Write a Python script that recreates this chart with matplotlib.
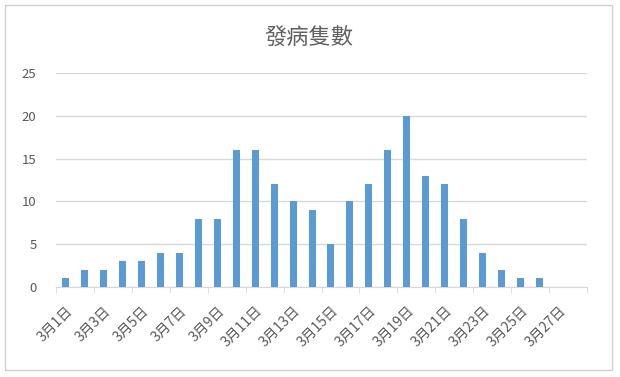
import numpy as np
import matplotlib
matplotlib.use("Agg")
from matplotlib import pyplot as plt
from matplotlib.patches import Rectangle

plt.rcParams['font.family'] = ['Noto Sans CJK TC', 'DejaVu Sans']

days = ["3月%d日" % d for d in range(1, 29)]
cases = [1, 2, 2, 3, 3, 4, 4, 8, 8, 16, 16, 12, 10, 9, 5,
         10, 12, 16, 20, 13, 12, 8, 4, 2, 1, 1, 0, 0]
yticks = [0, 5, 10, 15, 20, 25]
title = "發病隻數"

gray = "#595959"
fig = plt.figure(figsize=(6.2, 3.77), dpi=100)
fig.patches.append(Rectangle((5/620, 1-370/377), 607/620, 365/377,
                             transform=fig.transFigure, fill=False,
                             edgecolor="#d0d0d0", linewidth=1))
ax = fig.add_axes([56/620, 1-287/377, 531/620, 214/377])

x = np.arange(len(days))
ax.bar(x, cases, width=0.37, color="#5B9BD5", zorder=3)

ax.set_xlim(-0.5, len(days)-0.5)
ax.set_ylim(0, 25)
ax.set_yticks(yticks)
ax.yaxis.grid(True, color="#d9d9d9", linewidth=1)
ax.set_axisbelow(True)
for s in ["top", "right", "left"]:
    ax.spines[s].set_visible(False)
ax.spines["bottom"].set_color("#d9d9d9")
ax.tick_params(axis="y", length=0, pad=14, labelsize=9.5, labelcolor=gray)

ax.set_xticks(x[::2])
ax.set_xticklabels(days[::2], rotation=45, ha="right", rotation_mode="anchor",
                   fontsize=10, color=gray)
ax.tick_params(axis="x", which="major", length=0, pad=12)
ax.set_xticks(np.arange(-0.5, len(days), 2), minor=True)
ax.tick_params(axis="x", which="minor", length=4, color="#d9d9d9")

fig.text(309/620, 1-37/377, title, ha="center", va="center", fontsize=16,
         color="#606060", fontweight="light")

fig.savefig("out.png", dpi=100)
